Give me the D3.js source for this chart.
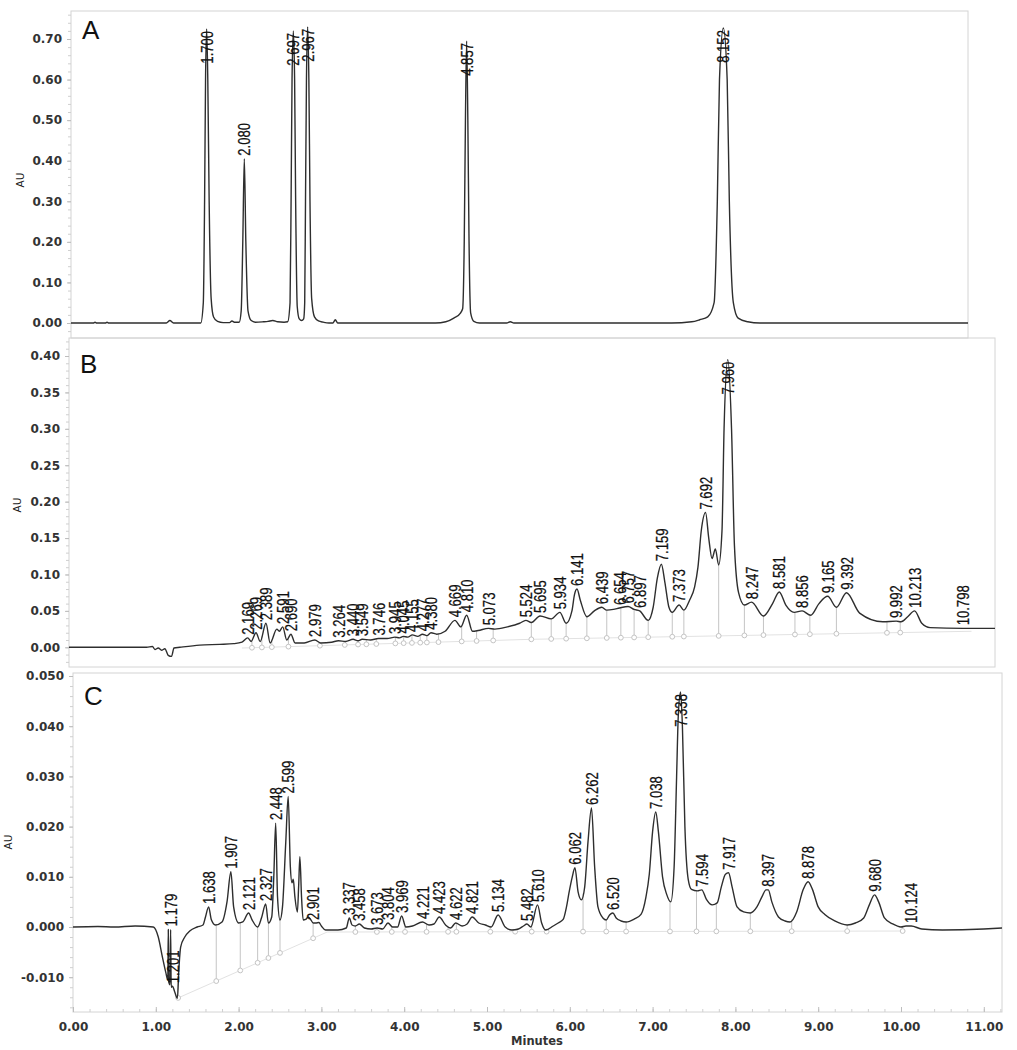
<!DOCTYPE html>
<html>
<head>
<meta charset="utf-8">
<script src="https://cdn.jsdelivr.net/npm/d3@7"></script>
<style>
  body { margin: 0; background: #fff; }
  svg { display: block; }
</style>
</head>
<body>
<script>
// ---- data (time in minutes, absorbance in AU) ----

// A: standards
const traceA = [
  [0,0],[0.28,0],[0.30,0.002],[0.32,0],[0.43,0],[0.45,0.002],[0.47,0],
  [1.19,0],[1.235,0.006],[1.28,0],
  [1.62,0],[1.652,0.05],[1.668,0.3],[1.680,0.6],[1.694,0.725],[1.708,0.6],[1.725,0.3],[1.75,0.06],[1.78,0.015],[1.83,0.004],[1.90,0.001],
  [1.98,0.001],[2.01,0.005],[2.04,0.002],
  [2.10,0.002],[2.125,0.03],[2.145,0.2],[2.164,0.405],[2.183,0.2],[2.21,0.03],[2.25,0.006],[2.30,0.002],
  [2.40,0.003],[2.46,0.004],[2.52,0.006],[2.58,0.003],[2.66,0.002],
  [2.705,0.003],[2.735,0.05],[2.748,0.3],[2.760,0.6],[2.776,0.72],[2.792,0.6],[2.805,0.3],[2.825,0.04],[2.85,0.01],[2.88,0.006],
  [2.905,0.01],[2.918,0.05],[2.928,0.3],[2.940,0.6],[2.955,0.73],[2.970,0.6],[2.984,0.3],[3.005,0.06],[3.04,0.015],[3.09,0.005],[3.15,0.002],[3.22,0],
  [3.27,0],[3.30,0.008],[3.33,0],
  [4.55,0],[4.68,0.003],[4.78,0.012],[4.86,0.024],[4.89,0.035],[4.91,0.2],[4.925,0.5],[4.940,0.695],[4.955,0.5],[4.97,0.2],[4.99,0.025],[5.03,0.004],[5.10,0],
  [5.44,0],[5.485,0.003],[5.53,0],
  [7.50,0],[7.75,0.003],[7.85,0.008],[7.95,0.015],[8.03,0.05],[8.07,0.3],[8.097,0.6],[8.145,0.727],[8.193,0.6],[8.22,0.3],[8.27,0.05],[8.33,0.012],[8.45,0.003],[8.60,0],
  [11.2,0]
];
const labelsA = ["1.700", "2.080", "2.697", "2.967", "4.857", "8.152"];
const labelTimesA = [1.694, 2.164, 2.776, 2.955, 4.940, 8.145];
const yTicksA = [0.00, 0.10, 0.20, 0.30, 0.40, 0.50, 0.60, 0.70];

// B: sample
const traceB = [
  [0,0],[0.95,0],[1.02,0.001],[1.05,-0.003],[1.09,-0.001],[1.13,-0.004],[1.17,-0.002],[1.21,-0.011],[1.25,-0.0125],[1.28,-0.001],[1.35,0],
  [1.59,0.003],[1.83,0.004],[2.0,0.005],[2.10,0.007],
  [2.169,0.013],[2.21,0.008],[2.269,0.02],[2.32,0.008],[2.389,0.033],[2.44,0.006],[2.52,0.025],[2.55,0.022],[2.591,0.028],[2.64,0.01],[2.690,0.018],[2.74,0.006],
  [2.85,0.006],[2.979,0.01],[3.05,0.006],[3.18,0.007],[3.264,0.009],[3.35,0.008],[3.440,0.011],[3.50,0.009],[3.549,0.011],[3.65,0.01],[3.746,0.012],
  [3.85,0.012],[3.945,0.014],[4.0,0.013],[4.045,0.015],[4.10,0.014],[4.155,0.017],[4.22,0.015],[4.277,0.018],[4.33,0.016],[4.380,0.02],[4.45,0.018],[4.55,0.022],
  [4.669,0.037],[4.74,0.028],[4.810,0.044],[4.88,0.022],[4.95,0.023],[5.073,0.026],[5.15,0.025],[5.30,0.028],[5.45,0.033],[5.524,0.037],[5.59,0.034],
  [5.695,0.043],[5.83,0.039],[5.934,0.048],[6.01,0.033],
  [6.08,0.05],[6.11,0.072],[6.141,0.080],[6.18,0.065],[6.26,0.042],[6.35,0.05],[6.439,0.055],[6.50,0.051],[6.58,0.052],[6.654,0.054],[6.757,0.056],
  [6.83,0.052],[6.897,0.05],[7.00,0.037],
  [7.06,0.055],[7.11,0.095],[7.159,0.114],[7.20,0.09],[7.25,0.055],[7.29,0.048],[7.373,0.058],[7.43,0.051],[7.50,0.065],[7.56,0.083],
  [7.60,0.11],[7.64,0.16],[7.692,0.185],[7.73,0.15],[7.77,0.122],[7.81,0.135],[7.85,0.113],
  [7.89,0.16],[7.915,0.3],[7.960,0.395],[8.005,0.3],[8.04,0.14],[8.09,0.075],[8.16,0.058],[8.247,0.062],[8.39,0.043],[8.50,0.06],[8.581,0.076],
  [8.66,0.058],[8.76,0.048],[8.856,0.05],[8.96,0.044],[9.06,0.06],[9.165,0.07],[9.27,0.055],[9.392,0.075],[9.55,0.047],[9.83,0.035],
  [9.992,0.036],[10.05,0.035],[10.13,0.042],[10.213,0.05],[10.30,0.033],[10.40,0.027],[10.798,0.026],[11.2,0.026]
];
const labelsB = ["2.169","2.269","2.389","2.591","2.690","2.979","3.264","3.440","3.549","3.746","3.945","4.045","4.155","4.277","4.380",
  "4.669","4.810","5.073","5.524","5.695","5.934","6.141","6.439","6.654","6.757","6.897","7.159","7.373","7.692","7.960",
  "8.247","8.581","8.856","9.165","9.392","9.992","10.213","10.798"];
const dropsB = [2.22,2.34,2.46,2.66,3.04,3.34,3.50,3.60,3.72,3.95,4.05,4.15,4.25,4.33,4.47,4.75,4.93,5.13,5.59,5.83,6.01,6.26,6.50,6.67,
  6.83,7.00,7.29,7.43,7.85,8.16,8.39,8.77,8.95,9.27,9.88,10.04];
const intBaseB = [[2.1,-0.001],[5.6,0.011],[10.9,0.022]];
const yTicksB = [0.00, 0.05, 0.10, 0.15, 0.20, 0.25, 0.30, 0.35, 0.40];

// C: sample, second extract
const traceC = [
  [0,0],[0.3,0.0001],[0.5,0],[0.75,0.0002],[0.97,0],[1.03,-0.002],[1.08,-0.006],[1.12,-0.009],
  [1.145,-0.0105],[1.151,-0.0005],[1.157,-0.011],[1.172,-0.0115],[1.179,-0.0005],[1.186,-0.012],[1.201,-0.0118],[1.23,-0.013],[1.26,-0.0142],
  [1.28,-0.008],[1.30,-0.004],[1.35,-0.002],[1.41,-0.0008],[1.50,0],[1.57,0.0004],[1.60,0.002],[1.638,0.004],[1.67,0.0015],[1.72,0.0004],
  [1.80,0.001],[1.86,0.005],[1.907,0.011],[1.94,0.004],[2.0,0.0008],[2.05,0.001],[2.121,0.0028],[2.16,0.0015],[2.23,0],[2.28,0.002],[2.327,0.0046],
  [2.36,0.0008],[2.40,0.002],[2.425,0.01],[2.448,0.0207],[2.47,0.006],[2.50,0.0014],[2.53,0.004],[2.57,0.017],[2.599,0.026],[2.625,0.012],
  [2.645,0.0088],[2.66,0.0095],[2.68,0.006],[2.71,0.003],[2.725,0.008],[2.74,0.014],[2.76,0.006],[2.78,0.0014],[2.81,0.0015],[2.84,0.002],
  [2.87,0.0015],[2.901,0.0008],[2.93,0.0008],[2.97,0.0009],[3.0,0.0002],[3.05,-0.0006],[3.2,-0.0006],[3.30,-0.0002],[3.337,0.0018],[3.37,0.0004],
  [3.41,0.0002],[3.458,0.0006],[3.52,-0.0002],[3.60,-0.0004],[3.673,-0.0002],[3.74,-0.0004],[3.804,0.0008],[3.86,0],[3.92,0],[3.969,0.0022],
  [4.02,0],[4.10,0.0002],[4.221,0.001],[4.30,0.0004],[4.36,0.0006],[4.423,0.002],[4.50,0.0004],[4.56,-0.0002],[4.622,0.0008],[4.70,0.0002],
  [4.76,0.0006],[4.821,0.002],[4.90,0.0008],[4.98,0.0004],[5.05,0],[5.134,0.0024],[5.22,0],[5.30,-0.0006],[5.38,-0.0004],[5.44,0.0002],
  [5.482,0.0006],[5.53,0],[5.610,0.0044],[5.66,0.0008],[5.71,-0.0006],[5.80,0.0002],[5.86,0.0008],[5.92,0.0015],[5.96,0.004],[5.99,0.0068],
  [6.03,0.010],[6.062,0.0118],[6.10,0.007],[6.14,0.0054],[6.18,0.008],[6.22,0.017],[6.262,0.0237],[6.30,0.012],[6.34,0.004],[6.40,0.0018],
  [6.44,0.0014],[6.48,0.0024],[6.520,0.0028],[6.56,0.0018],[6.62,0.0012],[6.68,0.001],[6.78,0.0016],[6.86,0.0025],[6.92,0.006],[6.96,0.0105],
  [7.00,0.019],[7.038,0.0229],[7.07,0.019],[7.12,0.01],[7.17,0.0065],[7.22,0.005],[7.26,0.012],[7.29,0.03],[7.31,0.042],[7.338,0.0468],
  [7.36,0.04],[7.39,0.02],[7.43,0.0095],[7.47,0.0075],[7.54,0.0072],[7.594,0.0074],[7.65,0.0055],[7.72,0.0044],[7.78,0.0048],[7.83,0.008],
  [7.88,0.0105],[7.917,0.0108],[7.96,0.008],[8.02,0.004],[8.10,0.003],[8.18,0.0028],[8.26,0.004],[8.32,0.006],[8.37,0.0074],[8.397,0.0074],
  [8.44,0.005],[8.52,0.002],[8.60,0.0012],[8.66,0.001],[8.74,0.003],[8.82,0.0075],[8.878,0.009],[8.93,0.0075],[9.0,0.004],[9.08,0.0025],
  [9.20,0.0012],[9.35,0.0004],[9.45,0.0008],[9.55,0.0018],[9.62,0.0045],[9.680,0.0064],[9.73,0.005],[9.80,0.0018],[9.90,0.0006],[10.0,0],
  [10.06,0.0002],[10.124,0.0002],[10.25,-0.0004],[10.5,-0.0006],[11.0,-0.0004],[11.22,-0.0002]
];
const labelsC = ["1.179","1.201","1.638","1.907","2.121","2.327","2.448","2.599","2.901","3.337","3.458","3.673","3.804","3.969",
  "4.221","4.423","4.622","4.821","5.134","5.482","5.610","6.062","6.262","6.520","7.038","7.338","7.594","7.917","8.397","8.878",
  "9.680","10.124"];
const dropsC = [1.27,1.73,2.02,2.23,2.36,2.50,2.90,3.41,3.67,3.85,4.01,4.27,4.53,4.63,5.04,5.34,5.54,5.72,6.16,6.44,6.68,7.21,
  7.53,7.77,8.18,8.68,9.35,10.02];
const intBaseC = [[1.26,-0.0142],[3.07,-0.0010],[10.05,-0.0008]];
const yTicksC = [-0.010, 0.000, 0.010, 0.020, 0.030, 0.040, 0.050];
const xTicks = [0, 1, 2, 3, 4, 5, 6, 7, 8, 9, 10, 11];

// ---- layout ----
const W = 1017, H = 1050;
const traceColor = "#2e2e2e";
const frameColor = "#d4d4d4";
const dropColor = "#c4c4c4";
const tickFont = "'DejaVu Sans', Verdana, sans-serif";
const peakFont = "'Liberation Sans Narrow', 'Arial Narrow', 'Liberation Sans', Arial, sans-serif";

const panels = [
  { name: "A", trace: traceA, labels: labelsA, times: labelTimesA, drops: [], base: null,
    frame: { l: 71, r: 968, t: 11, b: 338 },
    x: d3.scaleLinear([0, 11.2], [71, 968]), y: d3.scaleLinear([0, 0.7], [323, 39]),
    ticks: yTicksA, digits: 2, minorStep: 0.02, au: [20, 180], letterY: 39 },
  { name: "B", trace: traceB, labels: labelsB, times: labelsB.map(Number), drops: dropsB, base: intBaseB,
    frame: { l: 69, r: 995, t: 338, b: 667 },
    x: d3.scaleLinear([0, 11.2], [67.9, 996.4]), y: d3.scaleLinear([0, 0.4], [647.3, 356]),
    ticks: yTicksB, digits: 2, minorStep: 0.01, au: [17, 505], letterY: 373 },
  { name: "C", trace: traceC, labels: labelsC, times: labelsC.map(Number), drops: dropsC, base: intBaseC,
    frame: { l: 73, r: 1002, t: 673, b: 1012 },
    x: d3.scaleLinear([0, 11], [73, 983.8]), y: d3.scaleLinear([0, 0.05], [927, 676]),
    ticks: yTicksC, digits: 3, minorStep: 0.002, au: [8, 842], letterY: 705 }
];

const svg = d3.select("body").append("svg")
  .attr("width", W)
  .attr("height", H);

// linear read-out of a polyline at time t
function valueAt(pts, t) {
  const i = d3.bisector(d => d[0]).left(pts, t);
  if (i <= 0) return pts[0][1];
  if (i >= pts.length) return pts[pts.length - 1][1];
  const a = pts[i - 1], b = pts[i];
  return a[1] + (b[1] - a[1]) * (t - a[0]) / (b[0] - a[0]);
}

const labelLen = s => s.replace(".", "").length * 7.3 + 3.6;

panels.forEach(p => {
  const f = p.frame;
  const g = svg.append("g");

  g.append("clipPath").attr("id", "clip" + p.name)
    .append("rect")
    .attr("x", f.l).attr("y", f.t)
    .attr("width", f.r - f.l).attr("height", f.b - f.t);

  g.append("rect")
    .attr("x", f.l).attr("y", f.t)
    .attr("width", f.r - f.l).attr("height", f.b - f.t)
    .attr("fill", "none")
    .attr("stroke", frameColor);

  // y axis: minor ticks then labelled ticks
  const [d0, d1] = [p.y.invert(f.b), p.y.invert(f.t)];
  const minor = d3.range(Math.ceil(d0 / p.minorStep) * p.minorStep, d1, p.minorStep);
  g.append("g")
    .attr("transform", `translate(${f.l},0)`)
    .call(d3.axisLeft(p.y).tickValues(minor).tickSize(3).tickFormat(""))
    .call(a => a.select(".domain").remove())
    .call(a => a.selectAll("line").attr("stroke", "#cfcfcf"));

  g.append("g")
    .attr("transform", `translate(${f.l},0)`)
    .call(d3.axisLeft(p.y).tickValues(p.ticks).tickSize(4).tickPadding(5)
      .tickFormat(d => d.toFixed(p.digits)))
    .call(a => a.select(".domain").remove())
    .call(a => a.selectAll("line").attr("stroke", "#bdbdbd"))
    .call(a => a.selectAll("text")
      .attr("font-family", tickFont).attr("font-size", 12).attr("font-weight", "bold").attr("fill", "#333"));

  g.append("text")
    .attr("transform", `translate(${p.au[0]},${p.au[1]}) rotate(-90)`)
    .attr("text-anchor", "middle")
    .attr("dy", "0.35em")
    .attr("font-family", tickFont).attr("font-size", 10.5).attr("fill", "#222")
    .text("AU");

  g.append("text")
    .attr("x", f.l + 11).attr("y", p.letterY)
    .attr("font-family", "'Liberation Sans', Arial, sans-serif")
    .attr("font-size", 26).attr("fill", "#111")
    .text(p.name);

  const plot = g.append("g").attr("clip-path", `url(#clip${p.name})`);

  // integration drop lines with their baseline markers
  if (p.base) {
    plot.append("path")
      .attr("d", d3.line().x(d => p.x(d[0])).y(d => p.y(d[1]))(p.base))
      .attr("fill", "none")
      .attr("stroke", "#e2e2e2");
    p.drops.forEach(t => {
      const yb = p.y(valueAt(p.base, t));
      plot.append("line")
        .attr("x1", p.x(t)).attr("x2", p.x(t))
        .attr("y1", p.y(valueAt(p.trace, t))).attr("y2", yb)
        .attr("stroke", dropColor);
      plot.append("circle")
        .attr("cx", p.x(t)).attr("cy", yb).attr("r", 2.4)
        .attr("fill", "#fff").attr("stroke", dropColor);
    });
  }

  const line = d3.line()
    .x(d => p.x(d[0]))
    .y(d => p.y(d[1]))
    .curve(d3.curveMonotoneX);

  plot.append("path")
    .attr("d", line(p.trace))
    .attr("fill", "none")
    .attr("stroke", traceColor)
    .attr("stroke-width", 1.4)
    .attr("stroke-linejoin", "round");

  // peak labels, rotated; pushed inside the peak when there is no room above it
  p.labels.forEach((s, i) => {
    const t = p.times[i];
    const ya = p.y(valueAt(p.trace, t));
    const L = labelLen(s);
    let yb = ya - 3;
    if (yb - L < f.t + 2) yb = ya + 2 + L;
    g.append("text")
      .attr("transform", `translate(${p.x(t)},${yb}) rotate(-90)`)
      .attr("dy", "0.36em")
      .attr("textLength", L)
      .attr("lengthAdjust", "spacingAndGlyphs")
      .attr("font-family", peakFont)
      .attr("font-size", 17)
      .attr("fill", "#111")
      .attr("stroke", "#111")
      .attr("stroke-width", 0.25)
      .text(s);
  });

  // time axis only under the last panel
  if (p.name === "C") {
    const xMinor = d3.range(0, 11.21, 0.2);
    g.append("g")
      .attr("transform", `translate(0,${f.b})`)
      .call(d3.axisBottom(p.x).tickValues(xMinor).tickSizeInner(-3).tickSizeOuter(0).tickFormat(""))
      .call(a => a.select(".domain").remove())
      .call(a => a.selectAll("line").attr("stroke", "#cfcfcf"));
    g.append("g")
      .attr("transform", `translate(0,${f.b})`)
      .call(d3.axisBottom(p.x).tickValues(xTicks).tickSizeInner(-5).tickSizeOuter(0).tickPadding(10)
        .tickFormat(d => d.toFixed(2)))
      .call(a => a.select(".domain").remove())
      .call(a => a.selectAll("line").attr("stroke", "#bdbdbd"))
      .call(a => a.selectAll("text")
        .attr("font-family", tickFont).attr("font-size", 12).attr("font-weight", "bold").attr("fill", "#333"));
    g.append("text")
      .attr("x", 537).attr("y", 1045)
      .attr("text-anchor", "middle")
      .attr("font-family", tickFont).attr("font-size", 11.5).attr("font-weight", "bold").attr("fill", "#333")
      .text("Minutes");
  }
});
</script>
</body>
</html>
